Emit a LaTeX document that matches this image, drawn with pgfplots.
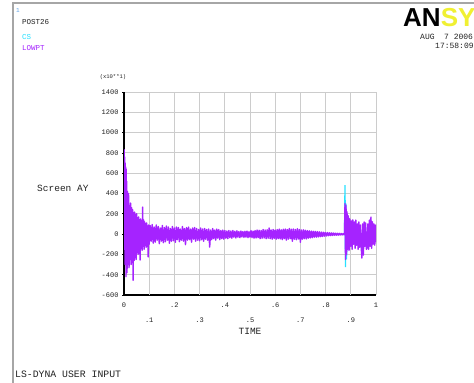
\documentclass[border=0pt]{standalone}
\usepackage{pgfplots}
\pgfplotsset{compat=1.18}
\usepackage{fontspec}
\setmainfont{Liberation Mono}
\newfontfamily\logofont{Liberation Sans}
\definecolor{ansmag}{RGB}{165,35,255}
\definecolor{anscyan}{RGB}{40,225,255}
\definecolor{ansyel}{RGB}{240,240,50}
\definecolor{ansblue}{RGB}{90,160,230}
\definecolor{anstxt}{RGB}{35,35,35}
\begin{document}
\begin{tikzpicture}
\path[use as bounding box] (0,0) rectangle (474bp,383bp);
\fill[white] (0,0) rectangle (474bp,383bp);
\draw[gray!70,line width=1.4bp] (13bp,0) -- (13bp,380bp) -- (476bp,380bp);
% header texts
\node[anchor=west,inner sep=0,text=ansblue,font=\fontsize{6bp}{6bp}\selectfont] at (16bp,372bp) {1};
\node[anchor=west,inner sep=0,text=anstxt,font=\fontsize{7.5bp}{7.5bp}\selectfont] at (22bp,360.5bp) {POST26};
\node[anchor=west,inner sep=0,text=anscyan,font=\fontsize{7.5bp}{7.5bp}\selectfont] at (22bp,345.5bp) {CS};
\node[anchor=west,inner sep=0,text=ansmag,font=\fontsize{7.5bp}{7.5bp}\selectfont] at (22bp,335bp) {LOWPT};
\node[anchor=base west,inner sep=0,font=\logofont\bfseries\fontsize{26bp}{26bp}\selectfont] at (403bp,356bp) {\textcolor{black}{AN}\textcolor{ansyel}{SY}};
\node[anchor=west,inner sep=0,text=anstxt,font=\fontsize{8bp}{8bp}\selectfont] at (420bp,346bp) {AUG\ \ 7 2006};
\node[anchor=west,inner sep=0,text=anstxt,font=\fontsize{8bp}{8bp}\selectfont] at (435bp,337bp) {17:58:09};
\node[inner sep=0,text=anstxt,font=\fontsize{5.5bp}{5.5bp}\selectfont] at (113bp,306bp) {(x10**1)};
\node[anchor=west,inner sep=0,text=anstxt,font=\fontsize{9.5bp}{9.5bp}\selectfont] at (37bp,195bp) {Screen AY};
\node[inner sep=0,text=anstxt,font=\fontsize{9.5bp}{9.5bp}\selectfont] at (250bp,52bp) {TIME};
\node[anchor=west,inner sep=0,text=anstxt,font=\fontsize{9.8bp}{9.8bp}\selectfont] at (15bp,9bp) {LS-DYNA USER INPUT};
\begin{axis}[
  at={(124bp,88bp)}, anchor=south west,
  scale only axis, width=252bp, height=203bp,
  xmin=0, xmax=1, ymin=-600, ymax=1400,
  axis lines=left,
  axis line style={-, line width=1.6bp, black},
  xtick={0,0.2,0.4,0.6,0.8,1},
  xticklabels={0,.2,.4,.6,.8,1},
  extra x ticks={0.1,0.3,0.5,0.7,0.9},
  extra x tick labels={.1,.3,.5,.7,.9},
  extra x tick style={grid=major, xticklabel style={yshift=-15bp}},
  ytick={-600,-400,-200,0,200,400,600,800,1000,1200,1400},
  yticklabels={-600,-400,-200,0,200,400,600,800,1000,1200,1400},
  grid=major,
  grid style={line width=0.8bp, gray!40},
  x tick label style={font=\fontsize{7bp}{7bp}\selectfont, text=anstxt, yshift=-2bp},
  y tick label style={font=\fontsize{7bp}{7bp}\selectfont, text=anstxt},
  xtick style={draw=none},
  ytick style={black, line width=0.6bp},
  tick align=outside, major tick length=2bp,
  /pgf/number format/assume math mode=true,
]
\addplot[anscyan, line width=1.3bp] coordinates {
(0,0) (0.0005,-60) (0.001,0)
};
\addplot[anscyan, line width=1.3bp] coordinates {
(0.870,0) (0.875,-5) (0.877,483) (0.879,-325) (0.881,300) (0.883,-250) (0.885,0)
};
\addplot[ansmag, line width=1.4bp, line join=round] coordinates {
(0.000,0) (0.001,830) (0.002,-150) (0.003,760) (0.004,-300) (0.005,700) (0.006,-250) (0.007,660)
(0.008,-420) (0.009,640) (0.010,-300) (0.011,520) (0.012,-380) (0.014,420) (0.016,-300) (0.018,400)
(0.020,-330) (0.022,280) (0.024,-250) (0.026,305) (0.028,-300) (0.030,260) (0.032,-280) (0.034,240)
(0.036,-455) (0.038,210) (0.040,-260) (0.042,217) (0.044,-230) (0.046,190) (0.048,-250) (0.050,200)
(0.052,-180) (0.054,160) (0.056,-200) (0.058,170) (0.060,-190) (0.062,140) (0.064,-255) (0.066,150)
(0.068,-140) (0.070,130) (0.072,-160) (0.074,266) (0.076,-120) (0.078,140) (0.080,-150) (0.082,120)
(0.084,-110) (0.086,100) (0.088,-130) (0.090,110) (0.092,-120) (0.094,80) (0.096,-225) (0.098,90)
(0.100,-100)
(0.104,85) (0.108,-70) (0.112,95) (0.116,-90) (0.120,70) (0.124,-80) (0.128,90) (0.132,-60)
(0.136,75) (0.140,-95) (0.144,60) (0.148,-70) (0.152,85) (0.156,-85) (0.160,65) (0.164,-75)
(0.168,80) (0.172,-60) (0.176,70) (0.180,-90) (0.184,55) (0.188,-70) (0.192,75) (0.196,-65)
(0.200,60) (0.204,-80) (0.208,70) (0.212,-55) (0.216,65) (0.220,-75) (0.224,50) (0.228,-60)
(0.232,75) (0.236,-70) (0.240,55) (0.244,-105) (0.248,65) (0.252,-60) (0.256,70) (0.260,-55)
(0.264,50) (0.268,-80) (0.272,60) (0.276,-50) (0.280,65) (0.284,-70) (0.288,55) (0.292,-60)
(0.296,45) (0.300,-65) (0.304,60) (0.308,-55) (0.312,50) (0.316,-70) (0.320,55) (0.324,-50)
(0.328,45) (0.332,-60) (0.336,50) (0.340,-128) (0.344,40) (0.348,-55) (0.352,55) (0.356,-45)
(0.360,40) (0.364,-60) (0.368,50) (0.372,-40) (0.376,45) (0.380,-55) (0.384,35) (0.388,-45)
(0.392,40) (0.396,-50) (0.400,35) (0.404,-40) (0.408,30) (0.412,-45) (0.416,35) (0.420,-35)
(0.424,30) (0.428,-40) (0.432,35) (0.436,-30) (0.440,28) (0.444,-38) (0.448,32) (0.452,-30)
(0.456,25) (0.460,-35) (0.464,30) (0.468,-28) (0.472,25) (0.476,-32) (0.480,28) (0.484,-30)
(0.488,30) (0.492,-35) (0.496,25) (0.500,-30) (0.504,35) (0.508,-35) (0.512,30) (0.516,-40)
(0.520,35) (0.524,-38) (0.528,40) (0.532,-35) (0.536,38) (0.540,-45) (0.544,35) (0.548,-40)
(0.552,45) (0.556,-38) (0.560,40) (0.564,-45) (0.568,42) (0.572,-40) (0.576,60) (0.580,-45)
(0.584,40) (0.588,-50) (0.592,45) (0.596,-42) (0.600,40) (0.604,-50) (0.608,45) (0.612,-45)
(0.616,50) (0.620,-48) (0.624,42) (0.628,-55) (0.632,48) (0.636,-45) (0.640,50) (0.644,-60)
(0.648,45) (0.652,-50) (0.656,55) (0.660,-45) (0.664,48) (0.668,-70) (0.672,50) (0.676,-50)
(0.680,45) (0.684,-55) (0.688,52) (0.692,-48) (0.696,45) (0.700,-80) (0.704,40) (0.708,-50)
(0.712,42) (0.716,-45) (0.720,38) (0.724,-48) (0.728,35) (0.732,-40) (0.736,32) (0.740,-38)
(0.744,30) (0.748,-35) (0.752,28) (0.756,-30) (0.760,26) (0.764,-30) (0.768,24) (0.772,-28)
(0.776,22) (0.780,-25) (0.784,20) (0.788,-24) (0.792,18) (0.796,-20) (0.800,16) (0.804,-18)
(0.808,15) (0.812,-16) (0.816,13) (0.820,-15) (0.824,12) (0.828,-13) (0.832,10) (0.836,-12)
(0.840,9) (0.844,-11) (0.848,8) (0.852,-10) (0.856,7) (0.860,-9) (0.864,6) (0.868,-8)
(0.872,5) (0.875,-5) (0.877,300) (0.879,-250) (0.881,280) (0.883,-200) (0.885,220) (0.887,-150)
(0.890,180) (0.893,-160) (0.896,150) (0.899,-120) (0.902,130) (0.905,-150) (0.908,140) (0.911,-100)
(0.914,120) (0.917,-140) (0.920,138) (0.923,-110) (0.926,100) (0.929,-150) (0.932,120) (0.935,-130)
(0.938,90) (0.941,-120) (0.944,-236) (0.947,100) (0.950,-207) (0.953,120) (0.956,-120) (0.959,110)
(0.962,-150) (0.965,-130) (0.968,100) (0.971,-150) (0.974,138) (0.977,-120) (0.980,167) (0.983,-140)
(0.986,120) (0.989,-100) (0.992,100) (0.995,-110) (0.998,90) (1.000,-80)
};
\end{axis}
\end{tikzpicture}
\end{document}
